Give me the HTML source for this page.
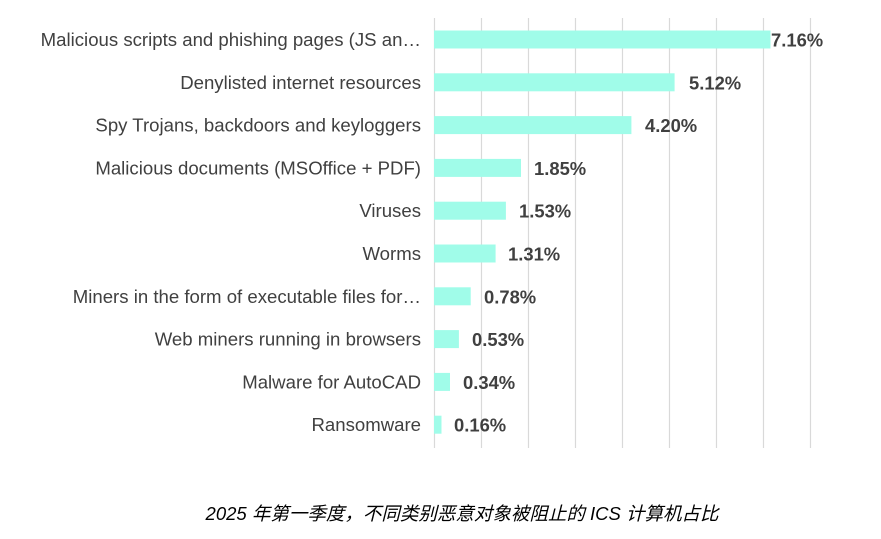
<!DOCTYPE html>
<html><head><meta charset="utf-8"><style>
body{margin:0;background:#fff;}
svg text{font-family:"Liberation Sans","Noto Sans CJK SC",sans-serif;}
</style></head><body>
<svg width="881" height="534" xmlns="http://www.w3.org/2000/svg">
<g stroke="#d9d9d9" stroke-width="1.2">
<line x1="434.5" y1="18" x2="434.5" y2="448"/>
<line x1="481.5" y1="18" x2="481.5" y2="448"/>
<line x1="528.5" y1="18" x2="528.5" y2="448"/>
<line x1="575.5" y1="18" x2="575.5" y2="448"/>
<line x1="622.5" y1="18" x2="622.5" y2="448"/>
<line x1="669.5" y1="18" x2="669.5" y2="448"/>
<line x1="716.5" y1="18" x2="716.5" y2="448"/>
<line x1="763.5" y1="18" x2="763.5" y2="448"/>
<line x1="810.5" y1="18" x2="810.5" y2="448"/>
</g>
<g fill="#a0fce9">
<rect x="434" y="30.5" width="336.5" height="18"/>
<rect x="434" y="73.3" width="240.6" height="18"/>
<rect x="434" y="116.1" width="197.4" height="18"/>
<rect x="434" y="158.9" width="87" height="18"/>
<rect x="434" y="201.7" width="71.9" height="18"/>
<rect x="434" y="244.5" width="61.6" height="18"/>
<rect x="434" y="287.3" width="36.7" height="18"/>
<rect x="434" y="330.1" width="24.9" height="18"/>
<rect x="434" y="372.9" width="16" height="18"/>
<rect x="434" y="415.7" width="7.5" height="18"/>
</g>
<g font-size="18.6" fill="#404040" text-anchor="end">
<text x="421" y="46">Malicious scripts and phishing pages (JS an…</text>
<text x="421" y="88.8">Denylisted internet resources</text>
<text x="421" y="131.6">Spy Trojans, backdoors and keyloggers</text>
<text x="421" y="174.4">Malicious documents (MSOffice + PDF)</text>
<text x="421" y="217.2">Viruses</text>
<text x="421" y="260">Worms</text>
<text x="421" y="302.8">Miners in the form of executable files for…</text>
<text x="421" y="345.6">Web miners running in browsers</text>
<text x="421" y="388.4">Malware for AutoCAD</text>
<text x="421" y="431.2">Ransomware</text>
</g>
<g font-size="18.4" font-weight="bold" fill="#404040">
<text x="771" y="46.5">7.16%</text>
<text x="689" y="89.3">5.12%</text>
<text x="645" y="132.1">4.20%</text>
<text x="534" y="174.9">1.85%</text>
<text x="519" y="217.7">1.53%</text>
<text x="508" y="260.5">1.31%</text>
<text x="484" y="303.3">0.78%</text>
<text x="472" y="346.1">0.53%</text>
<text x="463" y="388.9">0.34%</text>
<text x="454" y="431.7">0.16%</text>
</g>
<text x="462" y="520" font-size="18.5" font-style="italic" fill="#000" text-anchor="middle">2025 年第一季度，不同类别恶意对象被阻止的 ICS 计算机占比</text>
</svg>
</body></html>
